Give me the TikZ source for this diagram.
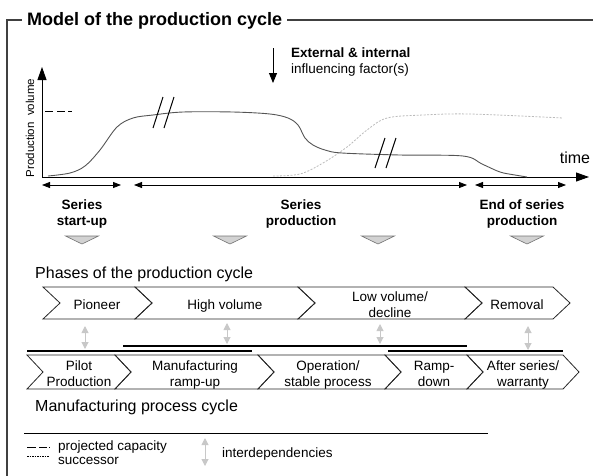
\documentclass[tikz,border=0pt]{standalone}
\usepackage{fontspec}
\setmainfont{Liberation Sans}
\usetikzlibrary{arrows.meta}

\definecolor{curvegray}{HTML}{555555}
\definecolor{succgray}{HTML}{BBBBBB}
\definecolor{markfill}{HTML}{D2D2D2}
\definecolor{depgray}{HTML}{C8C8C8}

\tikzset{
  frame/.style={line width=1.2pt, black!75},
  curve/.style={line width=0.9pt, curvegray},
  axis/.style={line width=0.9pt, -{Triangle[length=13pt,width=9pt]}},
  span/.style={line width=0.8pt, {Triangle[length=8pt,width=6pt]}-{Triangle[length=8pt,width=6pt]}},
  chevline/.style={line width=0.8pt, black!85},
  sepline/.style={line width=1.1pt},
  marker/.style={fill=markfill, draw=black!55, line width=0.6pt},
  interdep/.style={depgray, line width=1pt, {Triangle[length=7pt,width=7pt]}-{Triangle[length=7pt,width=7pt]}},
  lbl/.style={font=\fontsize{13.5}{15.5}\selectfont, align=center, inner sep=0pt, anchor=north},
  phaselbl/.style={font=\bfseries\fontsize{13.5}{16}\selectfont, align=center, inner sep=0pt, anchor=north},
  heading/.style={font=\fontsize{16}{19}\selectfont, anchor=base west, inner sep=0pt},
  small/.style={font=\fontsize{13.5}{14}\selectfont, anchor=base west, inner sep=0pt}
}

\begin{document}
\begin{tikzpicture}[x=1pt,y=-1pt]
  \useasboundingbox (0,0) rectangle (593,475);

  % frame and title
  \draw[frame] (593,20) -- (7,20) -- (7,476);
  \node[font=\bfseries\fontsize{18}{20}\selectfont, fill=white, inner xsep=5pt, inner ysep=2pt, anchor=base west]
    (title) at (22,25) {Model of the production cycle};

  % axes
  \coordinate (origin) at (42,177);
  \coordinate (ytop) at (42,67);
  \coordinate (xend) at (589,177);
  \draw[axis] (origin) -- (ytop);
  \draw[axis] (origin) -- (xend);
  \node[font=\fontsize{11.5}{12}\selectfont, rotate=90, inner sep=0pt] (yl) at (30,128) {Production\ \ volume};
  \node[font=\fontsize{16}{18}\selectfont, anchor=base, inner sep=0pt] (tl) at (575,163) {time};

  % projected capacity
  \draw[line width=0.8pt, dash pattern=on 8pt off 4pt on 8pt off 3pt on 4pt off 50pt] (45,111) -- (74,111);

  % successor
  \draw[succgray, line width=0.8pt, dash pattern=on 2pt off 1.5pt] plot[smooth, tension=0.55] coordinates
    {(273,176) (300,174) (323,163) (347,147) (367,130) (387,118) (423,115) (470,114) (563,118)};

  % production curve
  \draw[curve] plot[smooth, tension=0.55] coordinates
    {(48,176) (70,173) (85,166) (100,150) (117,127) (133,118) (153,115) (183,112) (233,112)
     (270,114) (288,118) (298,125) (305,138) (313,145) (325,150) (342,153) (400,155) (463,156)
     (482,164) (500,172) (515,175) (527,177)};

  % breaks
  \draw[line width=1pt] (153,128) -- (163,97);
  \draw[line width=1pt] (164,128) -- (174,97);
  \draw[line width=1pt] (375,168) -- (385,138);
  \draw[line width=1pt] (386,168) -- (396,138);

  % influencing factors
  \coordinate (inftop) at (273,48);
  \coordinate (infbot) at (273,83);
  \draw[line width=0.9pt, -{Triangle[length=10pt,width=8pt]}] (inftop) -- (infbot);
  \node[font=\fontsize{13.5}{16}\selectfont, align=left, inner sep=0pt, anchor=north west]
    (infl) at (291,48) {\textbf{External \& internal}\\influencing factor(s)};

  % phases
  \foreach \n/\a/\b in {p1/42/121, p2/134/467, p3/475/566} {
    \coordinate (\n a) at (\a,185);
    \coordinate (\n b) at (\b,185);
    \draw[span] (\n a) -- (\n b);
  }
  \node[phaselbl] (ph1) at (82,200) {Series\\start-up};
  \node[phaselbl] (ph2) at (301,200) {Series\\production};
  \node[phaselbl] (ph3) at (522,200) {End of series\\production};
  \foreach \x in {82,230,378,527} {
    \draw[marker] (\x-16.5,236) -- (\x+16.5,236) -- (\x,244) -- cycle;
  }

  % phases of the production cycle
  \node[heading] (phases) at (35,278) {Phases of the production cycle};
  \foreach \a/\b in {43/135,135/298,298/465,465/553} {
    \draw[chevline] (\a,287) -- (\b,287) -- (\b+17,303) -- (\b,319) -- (\a,319) -- (\a+17,303) -- cycle;
  }
  \node[lbl] (pioneer) at (97,300) {Pioneer};
  \node[lbl] (high) at (225,300) {High volume};
  \node[lbl] (low) at (390,292) {Low volume/\\decline};
  \node[lbl] (removal) at (517,300) {Removal};

  % interdependencies
  \foreach \n/\x/\a/\b in {d1/85/326/349, d2/227/323/344, d3/380/324/344, d4/528/326/350} {
    \coordinate (\n a) at (\x,\a);
    \coordinate (\n b) at (\x,\b);
    \draw[interdep] (\n a) -- (\n b);
  }
  \draw[sepline] (27,351) -- (252,351);
  \draw[sepline] (123,346) -- (467,346);
  \draw[sepline] (388,351) -- (563,351);

  % manufacturing process cycle
  \foreach \a/\b in {27/115,115/258,258/385,385/467,467/563} {
    \draw[chevline] (\a,355) -- (\b,355) -- (\b+16,372) -- (\b,389) -- (\a,389) -- (\a+16,372) -- cycle;
  }
  \node[lbl] (pilot) at (79,361) {Pilot\\Production};
  \node[lbl] (rampup) at (195,361) {Manufacturing\\ramp-up};
  \node[lbl] (stable) at (328,361) {Operation/\\stable process};
  \node[lbl] (rampdown) at (434,361) {Ramp-\\down};
  \node[lbl] (after) at (523,361) {After series/\\warranty};
  \node[heading] (mpc) at (35,411) {Manufacturing process cycle};

  % legend
  \draw[line width=0.9pt] (24,433) -- (488,433);
  \draw[line width=0.8pt, dash pattern=on 9pt off 3pt on 8pt off 2pt on 3pt off 50pt] (27,447) -- (50,447);
  \draw[line width=0.6pt, dash pattern=on 1.5pt off 1pt] (27,456) -- (49,456);
  \node[small] (lg1) at (58,450) {projected capacity};
  \node[small] (lg2) at (58,464) {successor};
  \coordinate (lga) at (205,438);
  \coordinate (lgb) at (205,466);
  \draw[interdep] (lga) -- (lgb);
  \node[small] (lg3) at (222,457) {interdependencies};
\end{tikzpicture}
\end{document}
